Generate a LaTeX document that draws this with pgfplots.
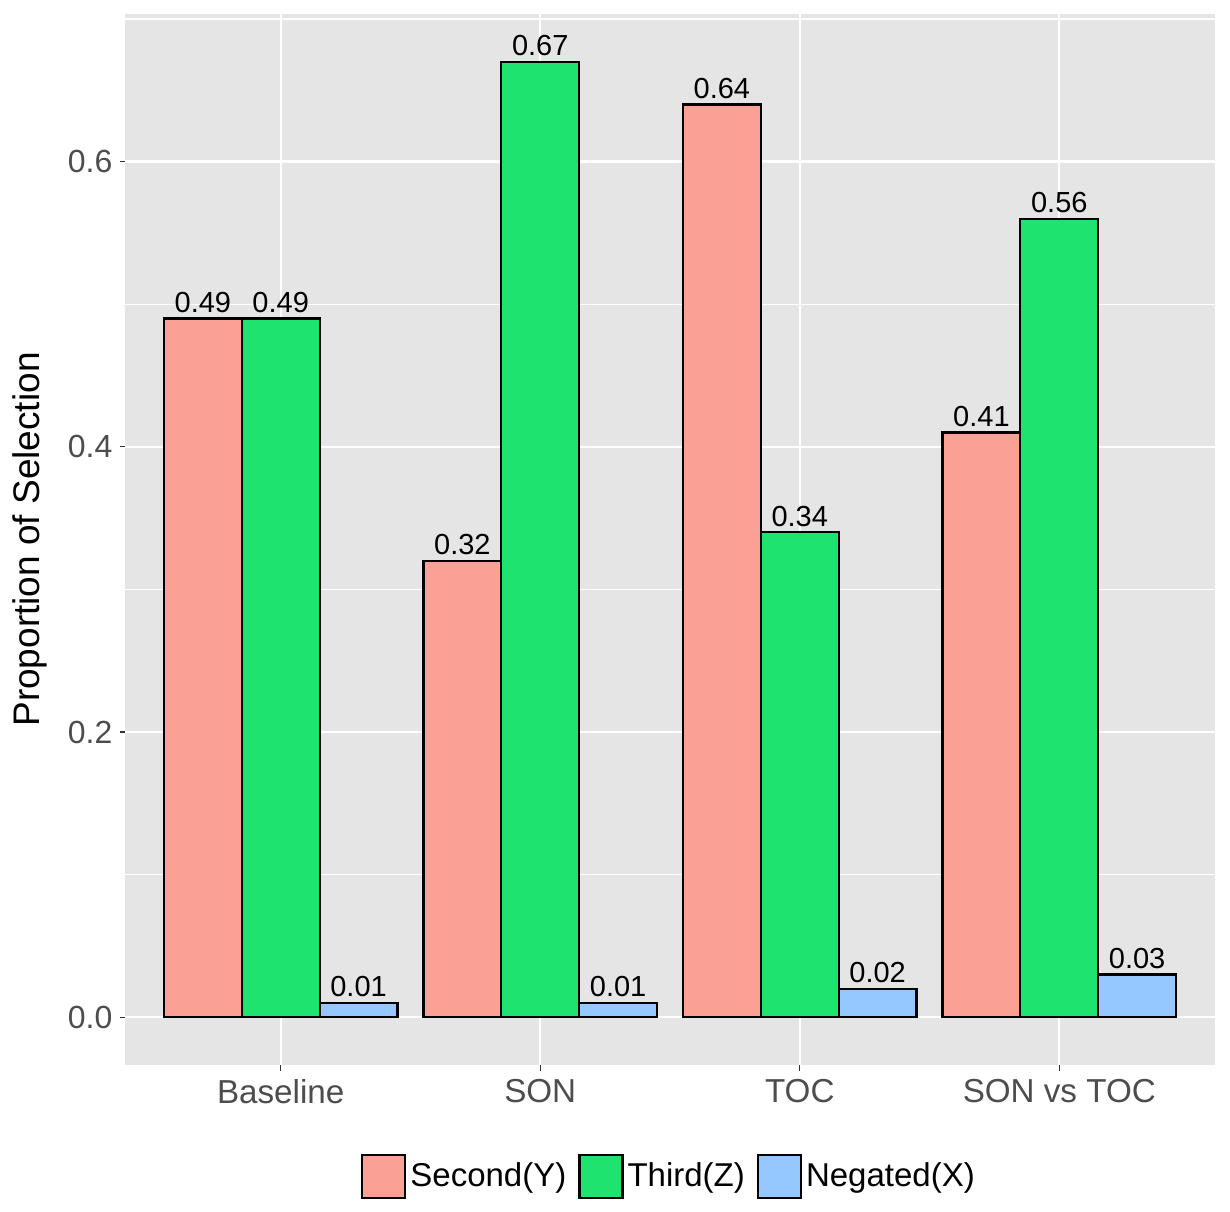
\documentclass[border=0pt]{standalone}
\usepackage{fontspec}
\setmainfont{Liberation Sans}
\usepackage{pgfplots}
\pgfplotsset{compat=1.18}
\definecolor{pinkbar}{HTML}{FAA094}
\definecolor{greenbar}{HTML}{1FE36F}
\definecolor{bluebar}{HTML}{95C8FF}
\definecolor{panelbg}{HTML}{E5E5E5}
\definecolor{ticklab}{HTML}{4D4D4D}
\begin{document}
\begin{tikzpicture}
\path[use as bounding box] (0,0) rectangle (615pt,605.5pt);
\begin{axis}[
  at={(62.5pt,73pt)}, anchor=south west,
  scale only axis, width=545pt, height=525.5pt,
  xmin=-0.6, xmax=3.6, ymin=-0.0335, ymax=0.7035,
  axis background/.style={fill=panelbg},
  axis line style={draw=none},
  xtick={0,1,2,3}, xticklabels={Baseline,SON,TOC,SON vs TOC},
  ytick={0,0.2,0.4,0.6},
  minor ytick={0.1,0.3,0.5,0.7},
  xtick pos=bottom, ytick pos=left,
  yticklabel style={/pgf/number format/.cd, fixed, fixed zerofill, precision=1, assume math mode=true},
  xmajorgrids=true, ymajorgrids=true, yminorgrids=true,
  major grid style={white, line width=1.1pt},
  minor grid style={white, line width=0.55pt},
  tick align=outside, major tick length=2.75pt, minor tick length=0pt,
  tick style={color=black!80, line width=0.55pt},
  ticklabel style={font=\fontsize{16}{19}\selectfont, text=ticklab},
  xticklabel style={yshift=-1pt, font=\fontsize{16.6}{19}\selectfont},
  ylabel={Proportion of Selection},
  ylabel style={font=\fontsize{18.5}{22}\selectfont, at={(axis description cs:-0.08716,0.5)}, anchor=center},
  bar width=0.3,
  nodes near coords={\pgfmathprintnumber[fixed,fixed zerofill,precision=2,assume math mode=true]{\pgfplotspointmeta}},
  nodes near coords style={font=\fontsize{14.5}{17}\selectfont, text=black, anchor=south, inner sep=2.3pt},
  legend image code/.code={\draw[#1,draw=black,line width=1.1pt] (0pt,-10.75pt) rectangle (21.5pt,10.75pt);},
  legend style={at={(0.5,-0.106)}, anchor=center, draw=none, fill=none, legend columns=3,
    font=\fontsize{16.5}{19}\selectfont, /tikz/every even column/.append style={column sep=4pt}},
  legend cell align=left,
]
\addplot[ybar, bar shift=0, fill=pinkbar, draw=black, line width=1.1pt]
  coordinates {(-0.3,0.49) (0.7,0.32) (1.7,0.64) (2.7,0.41)};
\addlegendentry{Second(Y)}
\addplot[ybar, bar shift=0, fill=greenbar, draw=black, line width=1.1pt]
  coordinates {(0,0.49) (1,0.67) (2,0.34) (3,0.56)};
\addlegendentry{Third(Z)}
\addplot[ybar, bar shift=0, fill=bluebar, draw=black, line width=1.1pt]
  coordinates {(0.3,0.01) (1.3,0.01) (2.3,0.02) (3.3,0.03)};
\addlegendentry{Negated(X)}
\end{axis}
\end{tikzpicture}
\end{document}
